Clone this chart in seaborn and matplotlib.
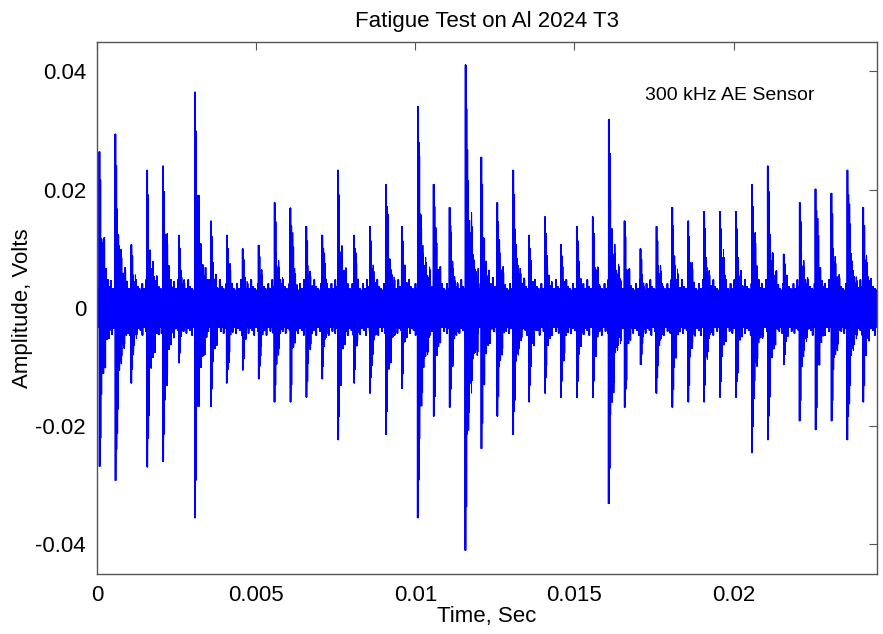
import numpy as np
import pandas as pd
import matplotlib
matplotlib.use("Agg")
import matplotlib.pyplot as plt
import seaborn as sns

# ---- data ----
burst_times = [0.00006, 0.00056, 0.00106, 0.00156, 0.00206, 0.00256, 0.00306, 0.00356,
               0.00406, 0.00456, 0.00506, 0.00556, 0.00606, 0.00656, 0.00706, 0.00756,
               0.00806, 0.00856, 0.00906, 0.00956, 0.01006, 0.01056, 0.01106, 0.01156,
               0.01206, 0.01256, 0.01306, 0.01356, 0.01406, 0.01456, 0.01506, 0.01556,
               0.01606, 0.01656, 0.01706, 0.01756, 0.01806, 0.01856, 0.01906, 0.01956,
               0.02006, 0.02056, 0.02106, 0.02156, 0.02206, 0.02256, 0.02306, 0.02356,
               0.02406]
pos_peaks = [0.0264, 0.0294, 0.0107, 0.0233, 0.0240, 0.0123, 0.0365, 0.0147,
             0.0123, 0.0100, 0.0106, 0.0178, 0.0169, 0.0138, 0.0123, 0.0233,
             0.0123, 0.0138, 0.0209, 0.0138, 0.0341, 0.0209, 0.0170, 0.0411,
             0.0255, 0.0178, 0.0233, 0.0123, 0.0154, 0.0107, 0.0138, 0.0154,
             0.0319, 0.0147, 0.0100, 0.0138, 0.0170, 0.0147, 0.0163, 0.0163,
             0.0163, 0.0209, 0.0240, 0.0091, 0.0178, 0.0201, 0.0194, 0.0233,
             0.0170]
neg_peaks = [0.0268, 0.0292, 0.0127, 0.0269, 0.0260, 0.0093, 0.0355, 0.0167,
             0.0127, 0.0105, 0.0120, 0.0159, 0.0159, 0.0151, 0.0120, 0.0223,
             0.0127, 0.0144, 0.0214, 0.0136, 0.0355, 0.0183, 0.0168, 0.0410,
             0.0238, 0.0183, 0.0214, 0.0159, 0.0144, 0.0151, 0.0151, 0.0151,
             0.0331, 0.0168, 0.0096, 0.0144, 0.0168, 0.0159, 0.0159, 0.0151,
             0.0151, 0.0245, 0.0223, 0.0096, 0.0191, 0.0206, 0.0191, 0.0223,
             0.0159]
# decay of each burst, fraction of the peak, per ~30 microsecond step after the hit
tail_profile = [1.0, 0.82, 0.52, 0.42, 0.36, 0.31, 0.27, 0.23, 0.20, 0.18,
                0.16, 0.15, 0.14, 0.13]
# ragged column-to-column texture of the trace edges (repeating, read by eye)
edge_texture_pos = [1.0, 0.78, 0.92, 1.25, 0.85, 1.0, 0.72, 1.45, 0.9, 1.1, 0.8]
edge_texture_neg = [0.9, 1.0, 1.3, 0.8, 1.05, 0.75, 1.15, 0.95, 1.4, 0.82, 1.0, 0.88, 1.2]
tail_step = 0.00003
noise_level = 0.0033
record_length = 0.0245
sample_dt = 0.0000015

# ---- build the waveform from the read values ----
t = np.arange(0.0, record_length, sample_dt)
bt = np.array(burst_times)
prof = np.array(tail_profile)
k = np.searchsorted(bt, t, side="right") - 1
valid = k >= 0
off = np.zeros(t.shape, dtype=int)
off[valid] = ((t[valid] - bt[k[valid]]) / tail_step).astype(int)
inside = valid & (off < len(prof))
col = (t / tail_step).astype(int)
tex_p = np.array(edge_texture_pos)[col % len(edge_texture_pos)]
tex_n = np.array(edge_texture_neg)[col % len(edge_texture_neg)]
tail_p = np.zeros(t.shape)
tail_n = np.zeros(t.shape)
tail_p[inside] = np.array(pos_peaks)[k[inside]] * prof[off[inside]]
tail_n[inside] = np.array(neg_peaks)[k[inside]] * prof[off[inside]]
head = inside & (off < 2)
env_p = np.where(head, tail_p, np.maximum(noise_level, tail_p) * tex_p)
env_n = np.where(head, tail_n, np.maximum(noise_level, tail_n) * tex_n)
carrier = np.where(np.arange(t.size) % 2 == 0, 1.0, -1.0)
amp = np.where(carrier > 0, env_p, -env_n)
df = pd.DataFrame({"Time": t, "Amplitude": amp})

# ---- plot ----
sns.set_theme(style="white")
plt.rcParams["font.family"] = ["Liberation Sans", "DejaVu Sans"]
plt.rcParams["text.color"] = "black"
plt.rcParams["axes.labelcolor"] = "black"

fig = plt.figure(figsize=(8.83, 6.34), dpi=100)
ax = fig.add_axes([0.110, 0.0946, 0.883, 0.8394])
sns.lineplot(data=df, x="Time", y="Amplitude", ax=ax, color="#0000ff",
             linewidth=0.6, estimator=None, sort=False, errorbar=None)

ax.set_xlim(0, 0.0245)
ax.set_ylim(-0.045, 0.045)
ax.set_xticks([0, 0.005, 0.01, 0.015, 0.02])
ax.set_xticklabels(["0", "0.005", "0.01", "0.015", "0.02"])
ax.set_yticks([-0.04, -0.02, 0, 0.02, 0.04])
ax.set_yticklabels(["-0.04", "-0.02", "0", "0.02", "0.04"])
ax.tick_params(direction="in", length=6, width=0.8, top=True, right=True,
               labelsize=16, colors="#555555", labelcolor="black", pad=8)
for s in ax.spines.values():
    s.set_color("#555555")
    s.set_linewidth(1.0)
ax.set_xlabel("Time, Sec", fontsize=16, labelpad=0, color="black")
ax.set_ylabel("Amplitude, Volts", fontsize=16, labelpad=2, color="black")
ax.set_title("Fatigue Test on Al 2024 T3", fontsize=16, pad=11, color="black")
ax.text(0.0172, 0.036, "300 kHz AE Sensor", fontsize=14, va="center", ha="left",
        color="black")

fig.savefig("out.png", dpi=100, facecolor="white")
